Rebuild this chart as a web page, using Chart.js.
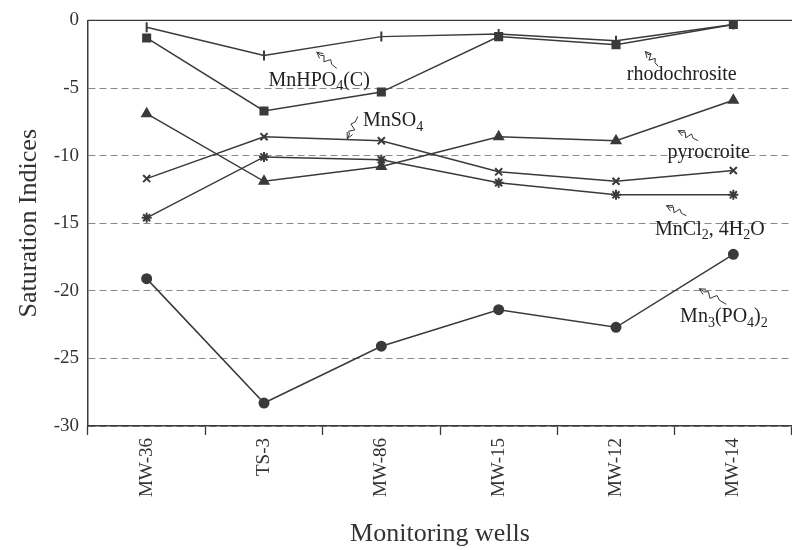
<!DOCTYPE html>
<html>
<head>
<meta charset="utf-8">
<script src="https://cdn.jsdelivr.net/npm/chart.js@4/dist/chart.umd.min.js"></script>
<style>
  body { margin: 0; background: #fff; overflow: hidden; }
  canvas { display: block; }
</style>
</head>
<body>
<!-- a few px wider than the window: the plot runs off the right edge like the scan -->
<canvas id="myChart" width="799" height="550"></canvas>
<script>
// monitoring wells on the x axis
const wells = ["MW-36", "TS-3", "MW-86", "MW-15", "MW-12", "MW-14"];

// saturation indices
const mnhpo4 = [-0.5, -2.6, -1.2, -1.0, -1.5, -0.3];
const rhodochrosite = [-1.3, -6.7, -5.3, -1.2, -1.8, -0.3];
const pyrocroite = [-6.9, -11.9, -10.8, -8.6, -8.9, -5.9];
const mnso4 = [-11.7, -8.6, -8.9, -11.2, -11.9, -11.1];
const mncl2 = [-14.6, -10.1, -10.3, -12.0, -12.9, -12.9];
const mn3po42 = [-19.1, -28.3, -24.1, -21.4, -22.7, -17.3];

const yMin = -30;
const yMax = 0;
const yStep = 5;

const ink = "#3a3a3a";
const serif = "'Liberation Serif', 'Times New Roman', serif";

// text labels with little squiggly arrows, placed in (well index, SI) units
const notes = [
  { parts: [["MnHPO", 0], ["4", 1], ["(C)", 0]], at: [1.47, -4.45], from: [1.62, -3.55], to: [1.45, -2.35] },
  { parts: [["MnSO", 0], ["4", 1]], at: [2.1, -7.45], from: [1.8, -7.1], to: [1.71, -8.75] },
  { parts: [["rhodochrosite", 0]], at: [4.56, -4.05], from: [4.36, -3.4], to: [4.25, -2.3] },
  { parts: [["pyrocroite", 0]], at: [4.79, -9.8], from: [4.7, -8.9], to: [4.53, -8.15] },
  { parts: [["MnCl", 0], ["2", 1], [", 4H", 0], ["2", 1], ["O", 0]], at: [4.8, -15.45], from: [4.6, -14.45], to: [4.43, -13.7] },
  { parts: [["Mn", 0], ["3", 1], ["(PO", 0], ["4", 1], [")", 0], ["2", 1]], at: [4.92, -21.95], from: [4.94, -21.0], to: [4.71, -19.85] },
];

function drawParts(ctx, parts, cx, cy, size) {
  const big = size + "px " + serif;
  const small = Math.round(size * 0.68) + "px " + serif;
  let total = 0;
  parts.forEach((p) => {
    ctx.font = p[1] ? small : big;
    total += ctx.measureText(p[0]).width;
  });
  let x = cx - total / 2;
  ctx.textBaseline = "middle";
  ctx.textAlign = "left";
  parts.forEach((p) => {
    ctx.font = p[1] ? small : big;
    ctx.fillText(p[0], x, p[1] ? cy + size * 0.3 : cy);
    x += ctx.measureText(p[0]).width;
  });
}

function squiggle(ctx, x1, y1, x2, y2) {
  const dx = x2 - x1, dy = y2 - y1;
  const len = Math.sqrt(dx * dx + dy * dy);
  const ux = dx / len, uy = dy / len;
  const px = -uy, py = ux;
  ctx.beginPath();
  ctx.moveTo(x1, y1);
  const steps = [[0.25, 0], [0.4, 3], [0.55, -3], [0.7, 2], [0.8, 0]];
  steps.forEach((s) => {
    ctx.lineTo(x1 + dx * s[0] + px * s[1], y1 + dy * s[0] + py * s[1]);
  });
  ctx.lineTo(x2, y2);
  ctx.stroke();
  // open arrow head
  const ah = 6;
  ctx.beginPath();
  ctx.moveTo(x2 - ux * ah + px * ah * 0.5, y2 - uy * ah + py * ah * 0.5);
  ctx.lineTo(x2, y2);
  ctx.lineTo(x2 - ux * ah - px * ah * 0.5, y2 - uy * ah - py * ah * 0.5);
  ctx.stroke();
}

const notesPlugin = {
  id: "notes",
  afterDraw(chart) {
    const ctx = chart.ctx;
    const xs = chart.scales.x;
    const ys = chart.scales.y;
    const area = chart.chartArea;
    ctx.save();
    // solid frame line along the top (SI = 0)
    ctx.strokeStyle = ink;
    ctx.lineWidth = 1.3;
    ctx.beginPath();
    ctx.moveTo(area.left, ys.getPixelForValue(yMax));
    ctx.lineTo(area.right, ys.getPixelForValue(yMax));
    ctx.stroke();

    ctx.fillStyle = "#222";
    ctx.strokeStyle = "#333";
    ctx.lineWidth = 1;
    notes.forEach((n) => {
      drawParts(ctx, n.parts, xs.getPixelForValue(n.at[0]), ys.getPixelForValue(n.at[1]), 20);
      squiggle(ctx,
        xs.getPixelForValue(n.from[0]), ys.getPixelForValue(n.from[1]),
        xs.getPixelForValue(n.to[0]), ys.getPixelForValue(n.to[1]));
    });
    ctx.restore();
  },
};

function series(label, data, style, radius, rotation) {
  return {
    label: label,
    data: data,
    borderColor: ink,
    backgroundColor: ink,
    borderWidth: 1.5,
    pointStyle: style,
    pointRadius: radius,
    pointRotation: rotation || 0,
    pointBorderWidth: 2,
    pointBackgroundColor: ink,
    pointBorderColor: ink,
    tension: 0,
    fill: false,
  };
}

ctx = document.getElementById("myChart").getContext("2d");
myChart = new Chart(ctx, {
  type: "line",
  data: {
    labels: wells,
    datasets: [
      series("MnHPO4(C)", mnhpo4, "line", 5, 90),
      series("rhodochrosite", rhodochrosite, "rect", 5),
      series("pyrocroite", pyrocroite, "triangle", 5),
      series("MnSO4", mnso4, "crossRot", 5),
      series("MnCl2, 4H2O", mncl2, "star", 5),
      series("Mn3(PO4)2", mn3po42, "circle", 4.5),
    ],
  },
  options: {
    responsive: false,
    animation: false,
    layout: { padding: { top: 17, left: 10, right: 0, bottom: 0 } },
    plugins: {
      legend: { display: false },
      tooltip: { enabled: false },
    },
    scales: {
      x: {
        type: "category",
        offset: true,
        grid: {
          offset: true,
          drawOnChartArea: false,
          drawTicks: true,
          tickLength: 9,
          tickColor: ink,
          tickWidth: 1.3,
        },
        border: { color: ink, width: 1.5 },
        ticks: {
          minRotation: 90,
          maxRotation: 90,
          padding: 3,
          color: "#333",
          font: { family: serif, size: 19 },
        },
        title: {
          display: true,
          text: "Monitoring wells",
          color: "#333",
          padding: { top: 0, bottom: 0 },
          font: { family: serif, size: 26 },
        },
        afterFit: (scale) => {
          scale.height = 124;
        },
      },
      y: {
        min: yMin,
        max: yMax,
        grid: {
          color: "#8a8a8a",
          lineWidth: 1,
          drawTicks: false,
        },
        border: { color: ink, width: 1.5, dash: [7, 4] },
        ticks: {
          stepSize: yStep,
          padding: 9,
          color: "#333",
          font: { family: serif, size: 19 },
        },
        title: {
          display: true,
          text: "Saturation Indices",
          color: "#333",
          padding: { top: 4, bottom: 0 },
          font: { family: serif, size: 26 },
        },
        afterFit: (scale) => {
          scale.width = 78;
        },
      },
    },
  },
  plugins: [notesPlugin],
});
</script>
</body>
</html>
